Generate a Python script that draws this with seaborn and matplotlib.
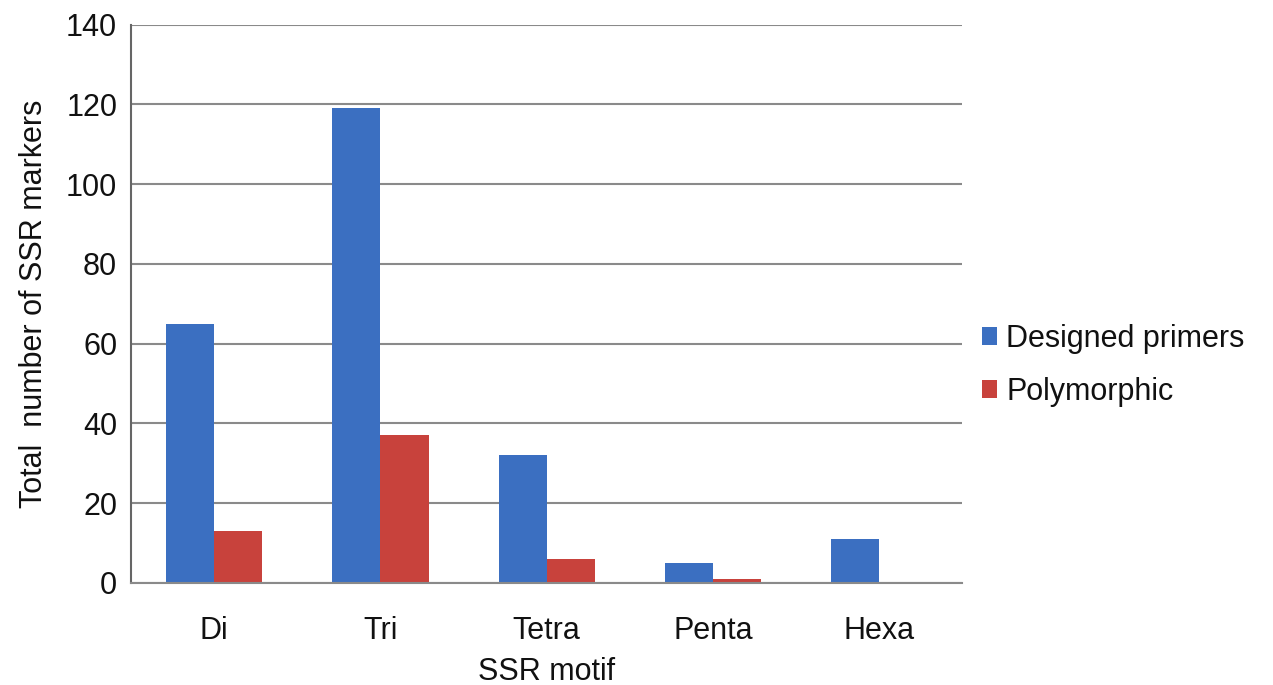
import matplotlib
matplotlib.use("Agg")
import matplotlib.pyplot as plt
import pandas as pd
import seaborn as sns

# Daten
motifs = ["Di", "Tri", "Tetra", "Penta", "Hexa"]
designed = [65, 119, 32, 5, 11]
polymorphic = [13, 37, 6, 1, 0]
series_names = ["Designed primers", "Polymorphic"]

df = pd.DataFrame({
    "motif": motifs * 2,
    "value": designed + polymorphic,
    "series": [series_names[0]] * len(motifs) + [series_names[1]] * len(motifs),
})

sns.set_style("white")
plt.rcParams["font.family"] = ["Liberation Sans", "DejaVu Sans"]
plt.rcParams["text.color"] = "#111111"
plt.rcParams["xtick.color"] = "#111111"
plt.rcParams["ytick.color"] = "#111111"
plt.rcParams["axes.labelcolor"] = "#111111"

fs = 22

fig = plt.figure(figsize=(12.73, 6.85), dpi=100)
ax = fig.add_axes([0.103, 0.149, 0.653, 0.815])

sns.barplot(data=df, x="motif", y="value", hue="series", order=motifs,
            palette=["#3b6fc1", "#c8423c"], width=0.58, saturation=1,
            linewidth=0, ax=ax, legend=True)

ax.set_ylim(0, 140)
ax.set_yticks(range(0, 141, 20))
ax.set_xlim(-0.5, 4.5)
ax.grid(axis="y", color="#8a8a8a", linewidth=1.5)
ax.set_axisbelow(True)

for s in ["top", "right"]:
    ax.spines[s].set_visible(False)
ax.spines["left"].set_color("#666666")
ax.spines["bottom"].set_color("#8a8a8a")
for s in ["left", "bottom"]:
    ax.spines[s].set_linewidth(1.5)

# kreski na granicach kategorii
ax.set_xticks([i - 0.5 for i in range(6)], minor=True)
ax.tick_params(axis="x", which="minor", length=7, width=1.2, color="#666666", direction="out")
ax.tick_params(axis="x", which="major", length=0, labelsize=fs, pad=24)
ax.tick_params(axis="y", length=6, width=1.2, color="#666666", direction="out", labelsize=fs, pad=4)

ax.set_xlabel("SSR motif", fontsize=fs, labelpad=8)
ax.set_ylabel("Total  number of SSR markers", fontsize=fs, labelpad=12)

leg = ax.legend(loc="center left", bbox_to_anchor=(0.99, 0.39), frameon=False,
                fontsize=fs, handlelength=0.5, handleheight=0.5,
                handletextpad=0.3, labelspacing=0.75)

fig.savefig("out.png", dpi=100)
